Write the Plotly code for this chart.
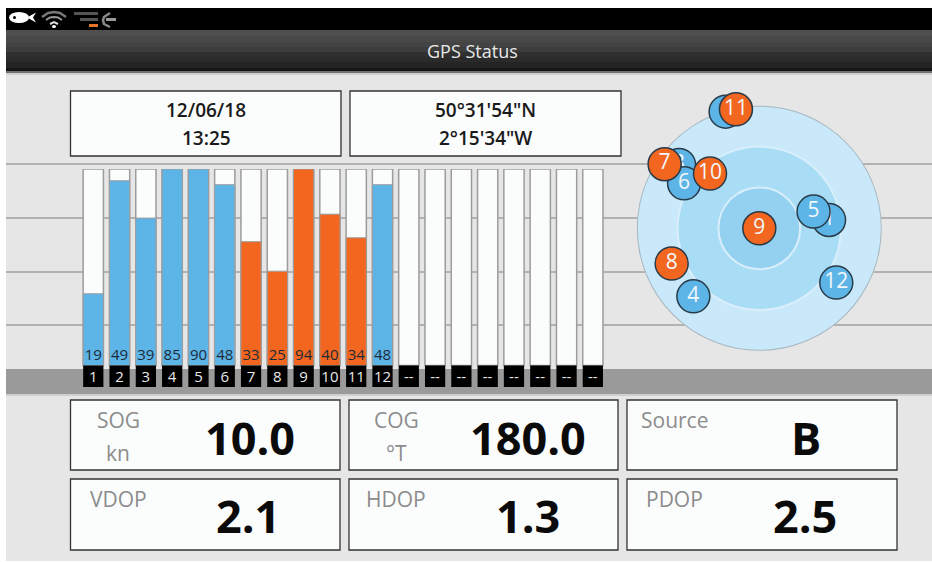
import plotly.graph_objects as go

W, H = 932, 562
FONT = "Open Sans"

# ---- data ----
channels = ["1","2","3","4","5","6","7","8","9","10","11","12","--","--","--","--","--","--","--","--"]
snr_labels = ["19","49","39","85","90","48","33","25","94","40","34","48"]
fill_levels = [36.5,94,75,100,100,92,63,48,100,77,65,92]
used_in_fix = [False,False,False,False,False,False,True,True,True,True,True,False]

sky_ids = ["1","2","3","6","5","4","12","11","7","10","9","8"]
sky_offzenith = [51.6,89.2,75.1,64.4,41.7,69.6,69.2,89.1,84.0,54.1,0,69.4]
sky_azimuth = [83.2,343.9,308.3,300.9,72.9,224.1,125.2,348.9,304.1,318.0,0,248.1]
sky_active = [False,False,False,False,False,False,False,True,True,True,True,True]

ring_radii = [90,60,30]
ring_colors = ["#c9e9fa","#a9dcf5","#94d0f0"]

date_lines = ["12/06/18","13:25"]
position_lines = ["50°31'54\"N","2°15'34\"W"]
readouts = ["10.0","180.0","B","2.1","1.3","2.5"]
readout_labels = ["SOG","COG","Source","VDOP","HDOP","PDOP"]
readout_units = ["kn","°T","","","",""]

BLUE, ORANGE = "#5db5e7", "#f3661f"
fx = lambda v: v / W
fy = lambda v: 1 - v / H

shapes, annotations = [], []

def rect(x0, y0, x1, y1, fill, line=None, lw=0):
    shapes.append(dict(type="rect", xref="paper", yref="paper", x0=fx(x0), x1=fx(x1), y0=fy(y0), y1=fy(y1),
                       fillcolor=fill, line=dict(color=line or fill, width=lw), layer="below"))

def hline(y, color="#b2b2b2", w=2, x0=6, x1=W):
    shapes.append(dict(type="line", xref="paper", yref="paper", x0=fx(x0), x1=fx(x1), y0=fy(y), y1=fy(y),
                       line=dict(color=color, width=w), layer="below"))

def label(x, y, s, size, color, weight=400):
    annotations.append(dict(xref="paper", yref="paper", x=fx(x), y=fy(y), text=s, showarrow=False,
                            xanchor="center", yanchor="middle",
                            font=dict(family=FONT, size=size, color=color, weight=weight)))

def path(d_pts, fill=None, line=None, lw=0):
    d = " ".join(("M" if i == 0 else "L") + f"{fx(x)},{fy(y)}" for i, (x, y) in enumerate(d_pts)) + (" Z" if fill else "")
    shapes.append(dict(type="path", xref="paper", yref="paper", path=d, fillcolor=fill or "rgba(0,0,0,0)",
                       line=dict(color=line or "rgba(0,0,0,0)", width=lw), layer="below"))

def ell(x0, y0, x1, y1, fill):
    shapes.append(dict(type="circle", xref="paper", yref="paper", x0=fx(x0), x1=fx(x1), y0=fy(y0), y1=fy(y1),
                       fillcolor=fill, line=dict(width=0), layer="below"))

# ---- screen chrome ----
rect(6, 8, W, 561, "#e6e6e6")
rect(6, 8, W, 30, "#000000")
bands = [(30,36,"#4f4f4f"),(36,42,"#484848"),(42,47,"#444444"),(47,52,"#3d3d3d"),(52,57,"#2f2f2f"),
         (57,62,"#2a2a2a"),(62,68,"#242424"),(68,71,"#141414"),(71,73,"#6f6f6f"),(73,75,"#d0d0d0")]
for a, b, c in bands:
    rect(6, a, W, b, c)
for y in (164, 218, 272, 325):
    hline(y)
rect(6, 369, W, 394, "#9a9a9a")
rect(6, 394, W, 396, "#cfcfcf")
label(472, 51, "GPS Status", 18, "#e8e8e8")

# status icons
ell(9, 12, 29, 23, "#ffffff")
path([(27,17.5),(36,12.5),(33,17.5),(36,22.5)], fill="#ffffff")
ell(13, 16, 16, 19, "#000000")
for pts, c, w in [([(42,17),(48,13),(54,12),(60,13),(66,17)],"#777777",2.5),
                  ([(46,20),(50,17.5),(54,17),(58,17.5),(62,20)],"#999999",2),
                  ([(50,24),(54,22),(58,24)],"#dddddd",2)]:
    path(pts, line=c, lw=w)
ell(52, 25, 56, 28, "#ffffff")
path([(74,12),(98,12),(98,15),(74,15)], fill="#555555")
path([(80,18),(98,18),(98,21),(80,21)], fill="#555555")
rect(89, 24, 98, 27, "#e8762a")
path([(110,13),(104,17),(103,20),(104,24),(110,27)], line="#8a8a8a", lw=2.5)
rect(106, 18, 116, 21, "#999999")

# ---- boxes ----
def box(x0, y0, x1, y1):
    rect(x0, y0, x1, y1, "#fbfcfc", "#333333", 1.3)
box(70.5, 91, 341, 156)
box(350, 91, 621, 156)
label(206, 110, date_lines[0], 19, "#1a1a1a", 600)
label(206, 138, date_lines[1], 19, "#1a1a1a", 600)
label(485, 110, position_lines[0], 19, "#1a1a1a", 600)
label(485, 138, position_lines[1], 19, "#1a1a1a", 600)

cols = [(70.5, 340, 118, 250), (349, 618, 396, 527.5), (627, 897, 674, 806)]
rows = [(400, 470, 420, 437), (479, 550, 499, 515)]
value_x = [250, 527.5, 806, 248, 528, 805]
for i in range(6):
    x0, x1, lx, _ = cols[i % 3]
    y0, y1, ly, vy = rows[i // 3]
    box(x0, y0, x1, y1)
    label(lx if i != 2 else 674, ly, readout_labels[i], 21, "#8c8c8c")
    if readout_units[i]:
        label(lx, 453, readout_units[i], 21, "#8c8c8c")
    label(value_x[i], vy, readouts[i], 45, "#0a0a0a", 700)

# ---- signal bars ----
idx = list(range(len(channels)))
bar_w = 0.77
traces = [
    go.Bar(x=idx, y=[100]*len(idx), width=bar_w, marker=dict(color="#fbfcfc", line=dict(color="#9c9c9c", width=1.5)),
           xaxis="x", yaxis="y", hoverinfo="skip"),
    go.Bar(x=idx[:12], y=fill_levels, width=bar_w,
           marker=dict(color=[ORANGE if u else BLUE for u in used_in_fix], line=dict(color="#9c9c9c", width=1)),
           xaxis="x", yaxis="y", hoverinfo="skip"),
    go.Bar(x=idx, y=[11]*len(idx), base=[-11]*len(idx), width=bar_w, marker=dict(color="#000000", line=dict(width=0)),
           text=channels, textposition="inside", insidetextanchor="middle", constraintext="none", textangle=0,
           insidetextfont=dict(family=FONT, size=15, color="#e8e8e8"),
           xaxis="x", yaxis="y", hoverinfo="skip"),
    go.Scatter(x=idx[:12], y=[4.7]*12, mode="text", text=snr_labels,
               textfont=dict(family=FONT, size=15, color="#1c2a38"), xaxis="x", yaxis="y",
               hoverinfo="skip", cliponaxis=False),
]

# ---- sky view ----
traces.append(go.Barpolar(r=ring_radii, theta=[0,0,0], width=[360,360,360],
                          marker=dict(color=ring_colors, line=dict(color=["#a9b6be","#d8effb","#d8effb"], width=[2,2,2])),
                          hoverinfo="skip"))
for sid, rv, az, on in zip(sky_ids, sky_offzenith, sky_azimuth, sky_active):
    traces.append(go.Scatterpolar(r=[rv], theta=[az], mode="markers+text", text=[sid], textposition="middle center",
                                  textfont=dict(family=FONT, size=21, color="#f2f7fa"),
                                  marker=dict(size=33, color=ORANGE if on else BLUE, line=dict(color="#2a3b48", width=1.5)),
                                  cliponaxis=False, hoverinfo="skip"))

fig = go.Figure(traces)
fig.update_layout(
    width=W, height=H, margin=dict(l=0, r=0, t=0, b=0), autosize=False,
    paper_bgcolor="#ffffff", plot_bgcolor="rgba(0,0,0,0)", showlegend=False,
    barmode="overlay", shapes=shapes, annotations=annotations,
    xaxis=dict(domain=[fx(80.15), fx(606)], range=[-0.5, 19.5], visible=False, fixedrange=True),
    yaxis=dict(domain=[fy(387.5), fy(169)], range=[-11.2, 100], visible=False, fixedrange=True),
    polar=dict(domain=dict(x=[fx(636.8), fx(881.8)], y=[fy(350.8), fy(105.8)]), bgcolor="rgba(0,0,0,0)",
               radialaxis=dict(visible=False, range=[0, 90]),
               angularaxis=dict(visible=False, direction="clockwise", rotation=90),
               barmode="overlay"),
)
fig.write_html("out.html", config=dict(displayModeBar=False),
               post_script="document.body.style.margin='0';document.body.style.overflow='hidden';")
